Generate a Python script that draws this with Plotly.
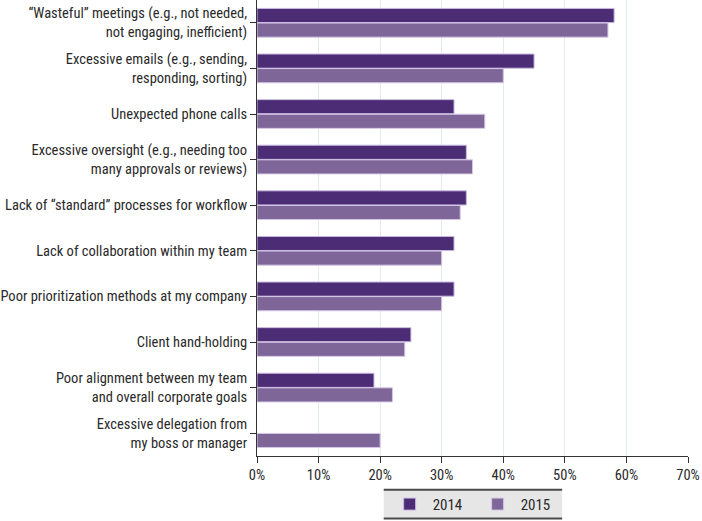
import plotly.graph_objects as go

categories = [
    "“Wasteful” meetings (e.g., not needed,<br>not engaging, inefficient)",
    "Excessive emails (e.g., sending,<br>responding, sorting)",
    "Unexpected phone calls",
    "Excessive oversight (e.g., needing too<br>many approvals or reviews)",
    "Lack of “standard” processes for workflow",
    "Lack of collaboration within my team",
    "Poor prioritization methods at my company",
    "Client hand-holding",
    "Poor alignment between my team<br>and overall corporate goals",
    "Excessive delegation from<br>my boss or manager",
]
values_2014 = [58, 45, 32, 34, 34, 32, 32, 25, 19, None]
values_2015 = [57, 40, 37, 35, 33, 30, 30, 24, 22, 20]
x_ticks = [0, 10, 20, 30, 40, 50, 60, 70]
x_tick_labels = ["0%", "10%", "20%", "30%", "40%", "50%", "60%", "70%"]

FONT = "Roboto Condensed, Liberation Sans Narrow, Arial Narrow, Liberation Sans, sans-serif"

fig = go.Figure()
fig.add_trace(go.Bar(
    y=categories, x=values_2014, orientation="h", name="2014",
    marker=dict(color="#4b2c75", line=dict(color="#c9b8e0", width=1)),
))
fig.add_trace(go.Bar(
    y=categories, x=values_2015, orientation="h", name="2015",
    marker=dict(color="#7f6699", line=dict(color="#d6c9e6", width=1)),
))

# legend box background with top/bottom rules
fig.add_shape(type="rect", xref="paper", yref="paper",
              x0=0.294, x1=0.708, y0=-0.137, y1=-0.074,
              fillcolor="#e6e6e6", line=dict(width=0), layer="below")
for yy in (-0.074, -0.137):
    fig.add_shape(type="line", xref="paper", yref="paper",
                  x0=0.294, x1=0.708, y0=yy, y1=yy,
                  line=dict(color="#4a4a4a", width=2))

fig.update_layout(
    width=702, height=521,
    margin=dict(l=257, r=14, t=0, b=65, autoexpand=False),
    paper_bgcolor="white", plot_bgcolor="white",
    barmode="group", bargap=0.36, bargroupgap=0.03,
    font=dict(family=FONT, size=14.5, color="#2a2a2a"),
    showlegend=True,
    legend=dict(orientation="h", x=0.505, xanchor="center", y=-0.106, yanchor="middle",
                bgcolor="rgba(0,0,0,0)", font=dict(size=15, color="#2a2a2a"),
                entrywidth=37, itemwidth=36, traceorder="normal"),
    xaxis=dict(range=[0, 70], tickvals=x_ticks, ticktext=x_tick_labels,
               showgrid=True, gridcolor="#e3eaf2", gridwidth=1,
               showline=True, linecolor="#333333", linewidth=1,
               ticks="outside", ticklen=6, tickcolor="#333333",
               tickfont=dict(size=14.5), zeroline=False, fixedrange=True,
               automargin=False),
    yaxis=dict(autorange="reversed", showline=True, linecolor="#333333", linewidth=1,
               ticks="outside", ticklen=6, tickcolor="#333333",
               tickfont=dict(size=14.5), showgrid=False, automargin=False),
)

fig.write_html("out.html", config={"displayModeBar": False},
               post_script="document.body.style.margin='0';document.body.style.overflow='hidden';")
